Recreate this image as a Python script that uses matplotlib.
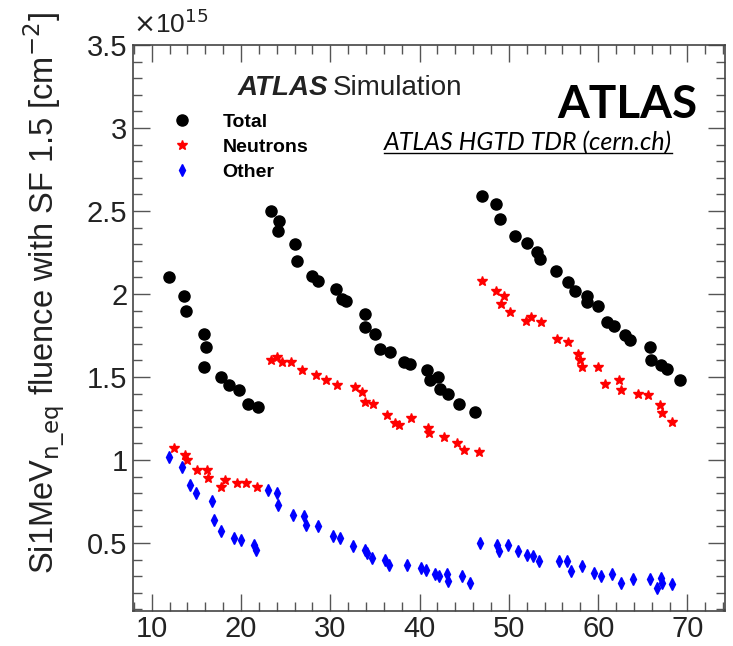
import matplotlib
matplotlib.use("Agg")
import matplotlib.pyplot as plt
from matplotlib.ticker import MultipleLocator, FuncFormatter
from matplotlib.lines import Line2D
import numpy as np

# valeurs (fluence en unites de 1e15 cm^-2)
total_x = [11.9, 13.6, 13.8, 15.9, 16.1, 15.9, 17.7, 18.6, 19.8, 20.8, 21.9,
           23.4, 24.2, 24.1, 26.0, 26.3, 27.9, 28.6, 30.6, 31.3, 31.8, 33.9, 33.9, 35.0,
           35.6, 36.7, 38.3, 38.9, 40.8, 41.2, 42.1, 42.3, 43.2, 44.4, 46.2,
           47.0, 48.5, 49.0, 50.7, 52.0, 53.2, 53.5, 55.3, 56.6, 57.4, 58.8, 58.8, 60.0,
           61.0, 61.8, 63.0, 63.6, 65.8, 65.9, 67.0, 67.7, 69.2]
total_y = [2.10, 1.99, 1.90, 1.76, 1.68, 1.56, 1.50, 1.45, 1.42, 1.34, 1.32,
           2.50, 2.44, 2.38, 2.30, 2.20, 2.11, 2.08, 2.03, 1.97, 1.96, 1.88, 1.80, 1.76,
           1.67, 1.65, 1.59, 1.58, 1.54, 1.48, 1.50, 1.43, 1.40, 1.34, 1.29,
           2.59, 2.54, 2.45, 2.35, 2.31, 2.25, 2.21, 2.14, 2.07, 2.02, 1.99, 1.95, 1.93,
           1.83, 1.81, 1.75, 1.72, 1.68, 1.60, 1.57, 1.55, 1.48]

neutrons_x = [12.5, 13.7, 14.0, 15.1, 16.2, 16.3, 17.7, 18.2, 19.6, 20.6, 21.8,
              23.4, 24.0, 24.6, 25.6, 26.8, 28.4, 29.5, 30.7, 32.8, 33.5, 33.9, 34.8,
              36.3, 37.2, 37.7, 39.0, 40.9, 41.1, 42.7, 44.2, 45.0, 46.6,
              47.0, 48.5, 49.5, 49.1, 50.1, 51.9, 52.5, 53.6, 55.4, 56.6, 57.7, 58.0,
              58.2, 60.0, 60.8, 62.3, 62.5, 64.5, 65.6, 66.9, 67.1, 68.3]
neutrons_y = [1.07, 1.03, 1.00, 0.94, 0.94, 0.89, 0.84, 0.88, 0.86, 0.86, 0.84,
              1.60, 1.62, 1.59, 1.59, 1.54, 1.51, 1.48, 1.45, 1.44, 1.41, 1.35, 1.34,
              1.27, 1.22, 1.21, 1.25, 1.19, 1.16, 1.14, 1.10, 1.06, 1.05,
              2.08, 2.02, 1.99, 1.94, 1.89, 1.84, 1.86, 1.83, 1.73, 1.71, 1.64, 1.60,
              1.56, 1.56, 1.46, 1.48, 1.42, 1.40, 1.39, 1.33, 1.28, 1.23]

other_x = [11.9, 13.4, 14.3, 15.0, 16.7, 17.0, 17.8, 19.2, 20.0, 21.4, 21.7,
           23.0, 24.0, 24.1, 25.8, 27.1, 27.3, 28.6, 30.3, 31.1, 32.5, 33.9, 34.1,
           34.7, 36.1, 36.6, 38.6, 40.1, 40.7, 41.7, 42.2, 43.1, 43.2, 44.8, 45.6,
           46.8, 48.7, 48.9, 49.9, 51.0, 52.0, 52.7, 53.4, 55.6, 56.5, 57.0, 58.2,
           59.5, 60.3, 61.5, 62.6, 63.9, 65.8, 66.6, 67.0, 67.2, 68.3]
other_y = [1.02, 0.96, 0.85, 0.80, 0.75, 0.64, 0.57, 0.53, 0.52, 0.49, 0.46,
           0.82, 0.80, 0.73, 0.67, 0.66, 0.61, 0.60, 0.54, 0.53, 0.48, 0.46, 0.44,
           0.41, 0.40, 0.37, 0.37, 0.35, 0.34, 0.31, 0.30, 0.31, 0.27, 0.30, 0.26,
           0.50, 0.49, 0.45, 0.49, 0.45, 0.43, 0.42, 0.39, 0.39, 0.39, 0.33, 0.36,
           0.32, 0.30, 0.31, 0.26, 0.28, 0.28, 0.23, 0.29, 0.26, 0.25]

scale = 1e15

plt.rcParams['font.family'] = ['Liberation Sans', 'DejaVu Sans']

fig = plt.figure(figsize=(7.33, 6.46), dpi=100)
ax = fig.add_axes([133 / 733, 35 / 646, 592 / 733, 566 / 646])

ax.plot(total_x, np.array(total_y) * scale, 'o', color='black', ms=8, mec='black',
        linestyle='none', label='Total')
ax.plot(neutrons_x, np.array(neutrons_y) * scale, '*', color='#ff0000', ms=7,
        linestyle='none', label='Neutrons')
ax.plot(other_x, np.array(other_y) * scale, 'd', color='#0000ff', ms=5.8,
        linestyle='none', label='Other')

ax.set_xlim(7.9, 74.2)
ax.set_ylim(0.09 * scale, 3.5 * scale)

# axes style ROOT
ax.xaxis.set_major_locator(MultipleLocator(10))
ax.xaxis.set_minor_locator(MultipleLocator(2))
ax.yaxis.set_major_locator(MultipleLocator(0.5 * scale))
ax.yaxis.set_minor_locator(MultipleLocator(0.1 * scale))
ax.yaxis.set_major_formatter(FuncFormatter(lambda v, p: f'{v / scale:g}'))
ax.text(0.0, 1.012, r'$\times$10$^{15}$', transform=ax.transAxes, fontsize=19,
        ha='left', va='bottom', color='#222222')

ax.tick_params(which='both', direction='in', top=True, right=True,
               color='#555555', width=1.0)
ax.tick_params(which='major', length=12.5, labelsize=21, labelcolor='#222222')
ax.tick_params(which='minor', length=6.5)
ax.tick_params(axis='x', which='major', pad=3)
ax.tick_params(axis='y', which='major', pad=4)
for s in ax.spines.values():
    s.set_color('#444444')
    s.set_linewidth(1.2)

fig.text(44 / 733, 1 - 12 / 646,
         r'Si1MeV$_{\mathrm{n\_eq}}$ fluence with SF 1.5 [cm$^{\mathrm{-2}}$]',
         rotation=90, ha='center', va='top', fontsize=23.5, color='#222222')

# legende
leg = ax.legend(loc='upper left', bbox_to_anchor=(172 / 733, 1 - 113 / 646),
                bbox_transform=fig.transFigure, frameon=False,
                prop={'family': 'Liberation Sans', 'weight': 'bold', 'size': 14},
                handletextpad=1.6, labelspacing=0.38, handlelength=1.0,
                borderpad=0, borderaxespad=0)

# textes
t1 = fig.text(238 / 733, 1 - 95 / 646, 'ATLAS', fontsize=20, fontweight='bold',
              fontstyle='italic', va='baseline', ha='left', color='#222222')
fig.canvas.draw()
bb = t1.get_window_extent()
fig.text(bb.x1 / 733 + 0.006, 1 - 95 / 646, 'Simulation', fontsize=20,
         va='baseline', ha='left', color='#222222')

fig.text(697 / 733, 1 - 118 / 646, 'ATLAS', fontsize=33, fontweight='bold',
         family='Lato', ha='right', va='baseline', color='black')
t3 = fig.text(672 / 733, 1 - 150 / 646, 'ATLAS HGTD TDR (cern.ch)', fontsize=18,
              fontstyle='italic', family='Lato', ha='right', va='baseline',
              color='black')
fig.canvas.draw()
bb3 = t3.get_window_extent()
uy = (646 - 153) / 646
fig.add_artist(Line2D([bb3.x0 / 733, bb3.x1 / 733], [uy, uy], color='black',
                      lw=1.0, transform=fig.transFigure))

fig.savefig('out.png', dpi=100)
